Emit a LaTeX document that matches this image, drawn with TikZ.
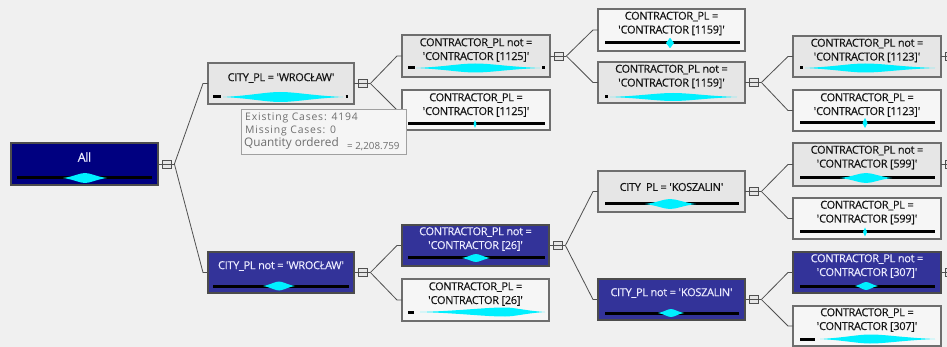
\documentclass[tikz,border=0pt]{standalone}
\usepackage{fontspec}
\setmainfont{Open Sans}
\newfontfamily\nodefont{Open Sans}[LetterSpace=-3, FakeBold=0.3]
\newfontfamily\tipfont{Open Sans}[LetterSpace=8]
\newfontfamily\tipbig{Open Sans}
\usetikzlibrary{calc}

\definecolor{canvas}{HTML}{F0F0F0}
\definecolor{splitfill}{HTML}{E6E6E6}
\definecolor{leaffill}{HTML}{F6F6F6}
\definecolor{rootfill}{HTML}{000080}
\definecolor{selfill}{HTML}{333399}
\definecolor{boxline}{HTML}{6E6E6E}
\definecolor{connc}{HTML}{505050}
\definecolor{txt}{HTML}{141414}
\definecolor{seltxt}{HTML}{ECECFF}
\definecolor{barcyan}{HTML}{00F0FF}
\definecolor{tipfill}{HTML}{F5F5F5}
\definecolor{tipline}{HTML}{A0A0A0}
\definecolor{tiptxt}{HTML}{6E6E6E}

\newcommand\q{\textquotesingle}

% tree node box: name, x0, y0, x1, y1, style
\newcommand\gnode[6]{%
  \node[#6, anchor=north west, minimum width={#4-#2}, minimum height={#5-#3}] (#1) at (#2,#3) {};}

% cyan distribution shape: left, right, peak, y, half height
\newcommand\lens[5]{%
  \fill[barcyan] (#1,#4)
    .. controls ({#1+0.5*(#3-#1)},{#4-0.3*#5}) and ({#3-0.25*(#3-#1)},{#4-#5}) .. (#3,{#4-#5})
    .. controls ({#3+0.25*(#2-#3)},{#4-#5}) and ({#2-0.5*(#2-#3)},{#4-0.3*#5}) .. (#2,#4)
    .. controls ({#2-0.5*(#2-#3)},{#4+0.3*#5}) and ({#3+0.25*(#2-#3)},{#4+#5}) .. (#3,{#4+#5})
    .. controls ({#3-0.25*(#3-#1)},{#4+#5}) and ({#1+0.5*(#3-#1)},{#4+0.3*#5}) .. cycle;}

% black bar segment: x0, x1, y
\newcommand\blk[3]{\draw[barblk] (#1,#3) -- (#2,#3);}

% collapse box right of a node, with the junction point behind it
\newcommand\xbox[1]{%
  \node[xboxst] (#1-x) at ($(#1.east)+(8.5,0)$) {};
  \draw[conn] (#1.east) -- ($(#1-x.east)+(3,0)$) coordinate (#1-j);}

% branch from a junction to a child node
\newcommand\branch[2]{\draw[conn] (#1-j) -- ($(#2.west)+(-5,0)$) -- (#2.west);}

\begin{document}
\begin{tikzpicture}[x=1pt,y=-1pt,
  box/.style={draw=boxline, line width=1.1pt, inner sep=0pt, outer sep=0pt},
  split/.style={box, fill=splitfill},
  leaf/.style={box, fill=leaffill},
  rootn/.style={box, fill=rootfill, draw=black!70},
  sel/.style={box, fill=selfill, draw=black!70},
  ntext/.style={font=\nodefont\fontsize{11}{13.8}\selectfont, align=center, inner sep=0pt, text=txt},
  wtext/.style={ntext, text=seltxt},
  xboxst/.style={draw=connc, fill=splitfill, line width=0.8pt, minimum width=9pt, minimum height=8pt, inner sep=0pt},
  conn/.style={draw=connc, line width=0.8pt},
  barblk/.style={line width=3pt, black},
  tipst/.style={draw=tipline, fill=tipfill, line width=0.8pt, inner sep=0pt},
  tiptext/.style={font=\tipfont\fontsize{10.4}{12}\selectfont, text=tiptxt, inner sep=0pt, anchor=west}]

\useasboundingbox (0,0) rectangle (947,347);
\clip (0,0) rectangle (947,347);
\fill[canvas] (0,0) rectangle (947,347);

% ---------- node boxes ----------
\gnode{root}{11}{143}{158}{185}{rootn}
\gnode{w1}{208}{63}{354}{104}{split}
\gnode{w2}{208}{252}{354}{293}{sel}
\gnode{c1125n}{402}{35}{550}{77}{split}
\gnode{c1125}{402}{90}{550}{130}{leaf}
\gnode{c26n}{402}{225}{549}{266}{sel}
\gnode{c26}{402}{279}{549}{321}{leaf}
\gnode{c1159}{598}{9}{745}{51}{leaf}
\gnode{c1159n}{598}{62}{745}{103}{split}
\gnode{kos}{598}{171}{745}{212}{split}
\gnode{kosn}{598}{279}{745}{320}{sel}
\gnode{c1123n}{793}{36}{941}{77}{split}
\gnode{c1123}{793}{90}{941}{131}{leaf}
\gnode{c599n}{793}{143}{941}{186}{split}
\gnode{c599}{793}{198}{941}{239}{leaf}
\gnode{c307n}{793}{252}{941}{293}{sel}
\gnode{c307}{793}{306}{941}{346}{leaf}

% ---------- labels ----------
\node[wtext, font=\nodefont\fontsize{12.5}{14}\selectfont] (root-t) at ($(root.north)+(0,14)$) {All};
\node[ntext] (w1-t) at ($(w1.north)+(0,15)$) {CITY\_PL = \q WROCŁAW\q};
\node[wtext] (w2-t) at ($(w2.north)+(0,14)$) {CITY\_PL not = \q WROCŁAW\q};
\node[ntext] (c1125n-t) at ($(c1125n.north)+(0,15)$) {CONTRACTOR\_PL not =\\\q CONTRACTOR [1125]\q};
\node[ntext] (c1125-t) at ($(c1125.north)+(0,15)$) {CONTRACTOR\_PL =\\\q CONTRACTOR [1125]\q};
\node[wtext] (c26n-t) at ($(c26n.north)+(0,14)$) {CONTRACTOR\_PL not =\\\q CONTRACTOR [26]\q};
\node[ntext] (c26-t) at ($(c26.north)+(0,15)$) {CONTRACTOR\_PL =\\\q CONTRACTOR [26]\q};
\node[ntext] (c1159-t) at ($(c1159.north)+(0,14.5)$) {CONTRACTOR\_PL =\\\q CONTRACTOR [1159]\q};
\node[ntext] (c1159n-t) at ($(c1159n.north)+(0,14.5)$) {CONTRACTOR\_PL not =\\\q CONTRACTOR [1159]\q};
\node[ntext] (kos-t) at ($(kos.north)+(0,16)$) {CITY~~PL = \q KOSZALIN\q};
\node[wtext] (kosn-t) at ($(kosn.north)+(0,14)$) {CITY\_PL not = \q KOSZALIN\q};
\node[ntext] (c1123n-t) at ($(c1123n.north)+(0,14.5)$) {CONTRACTOR\_PL not =\\\q CONTRACTOR [1123]\q};
\node[ntext] (c1123-t) at ($(c1123.north)+(0,15)$) {CONTRACTOR\_PL =\\\q CONTRACTOR [1123]\q};
\node[ntext] (c599n-t) at ($(c599n.north)+(0,14.5)$) {CONTRACTOR\_PL not =\\\q CONTRACTOR [599]\q};
\node[ntext] (c599-t) at ($(c599.north)+(0,14.5)$) {CONTRACTOR\_PL =\\\q CONTRACTOR [599]\q};
\node[wtext] (c307n-t) at ($(c307n.north)+(0,14)$) {CONTRACTOR\_PL not =\\\q CONTRACTOR [307]\q};
\node[ntext] (c307-t) at ($(c307.north)+(0,14)$) {CONTRACTOR\_PL =\\\q CONTRACTOR [307]\q};

% ---------- distribution bars ----------
\blk{17}{152}{178} \lens{63}{107}{85}{178}{5}
\blk{213}{221}{97} \lens{223}{343}{280}{97}{5} \blk{345.5}{348}{97}
\blk{213}{349}{286} \lens{263}{295}{279}{286}{4.5}
\blk{408}{415}{68} \lens{416}{540}{475}{68}{4.5} \blk{542}{544.5}{68}
\blk{408}{545}{124} \lens{473.5}{476.5}{475}{124}{4}
\blk{408}{545}{258} \lens{462}{490}{476}{258}{4}
\blk{408}{414}{312} \lens{420}{545}{505}{312}{4.5}
\blk{605}{740}{43} \lens{666}{674}{670}{43}{5}
\blk{605}{607.5}{97} \lens{610}{737}{673}{97}{4}
\blk{605}{739}{204} \lens{645}{696}{670}{204}{5}
\blk{605}{739}{313} \lens{658}{684}{671}{313}{4}
\blk{800}{802.5}{68} \lens{805}{935}{865}{68}{4.5}
\blk{800}{935}{123} \lens{862.5}{867.5}{865}{123}{5}
\blk{800}{935}{178} \lens{840}{892}{866}{178}{5}
\blk{800}{935}{232} \lens{863}{867}{865}{232}{4.5}
\blk{800}{935}{286} \lens{855}{878}{866}{286}{4}
\blk{800}{815}{339} \lens{820}{935}{870}{339}{4.5}

% ---------- collapse boxes and branches ----------
\xbox{root} \branch{root}{w1} \branch{root}{w2}
\xbox{w1} \branch{w1}{c1125n} \branch{w1}{c1125}
\xbox{w2} \branch{w2}{c26n} \branch{w2}{c26}
\xbox{c1125n} \branch{c1125n}{c1159} \branch{c1125n}{c1159n}
\xbox{c26n} \branch{c26n}{kos} \branch{c26n}{kosn}
\xbox{c1159n} \branch{c1159n}{c1123n} \branch{c1159n}{c1123}
\xbox{kos} \branch{kos}{c599n} \branch{kos}{c599}
\xbox{kosn} \branch{kosn}{c307n} \branch{kosn}{c307}
\xbox{c1123n} \xbox{c599n} \xbox{c307n}

% ---------- hover info ----------
\node[tipst, anchor=north west, minimum width=165, minimum height=45] (tip) at (241,109) {};
\node[tiptext] (tip-a) at (245,118) {Existing Cases: 4194};
\node[tiptext] (tip-b) at (245,131) {Missing Cases: 0};
\node[tiptext, font=\tipbig\fontsize{11.8}{14}\selectfont] (tip-c) at (244,143.5) {Quantity ordered};
\node[tiptext, font=\tipbig\fontsize{9.8}{12}\selectfont] (tip-d) at (347,146.5) {= 2,208.759};
\end{tikzpicture}
\end{document}
